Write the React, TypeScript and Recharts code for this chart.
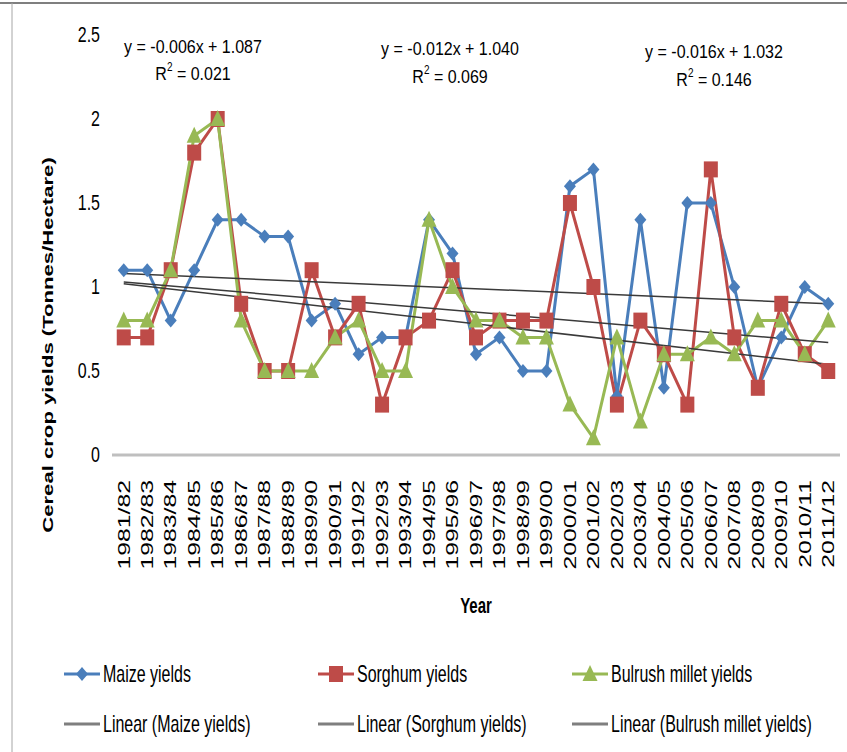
import React from "react";
import { LineChart, Line, XAxis, YAxis, ReferenceLine } from "recharts";

const years = [
  "1981/82", "1982/83", "1983/84", "1984/85", "1985/86", "1986/87", "1987/88", "1988/89",
  "1989/90", "1990/91", "1991/92", "1992/93", "1993/94", "1994/95", "1995/96", "1996/97",
  "1997/98", "1998/99", "1999/00", "2000/01", "2001/02", "2002/03", "2003/04", "2004/05",
  "2005/06", "2006/07", "2007/08", "2008/09", "2009/10", "2010/11", "2011/12",
];

const maize = [
  1.1, 1.1, 0.8, 1.1, 1.4, 1.4, 1.3, 1.3, 0.8, 0.9, 0.6, 0.7, 0.7, 1.4, 1.2, 0.6,
  0.7, 0.5, 0.5, 1.6, 1.7, 0.35, 1.4, 0.4, 1.5, 1.5, 1.0, 0.4, 0.7, 1.0, 0.9,
];
const sorghum = [
  0.7, 0.7, 1.1, 1.8, 2.0, 0.9, 0.5, 0.5, 1.1, 0.7, 0.9, 0.3, 0.7, 0.8, 1.1, 0.7,
  0.8, 0.8, 0.8, 1.5, 1.0, 0.3, 0.8, 0.6, 0.3, 1.7, 0.7, 0.4, 0.9, 0.6, 0.5,
];
const millet = [
  0.8, 0.8, 1.1, 1.9, 2.0, 0.8, 0.5, 0.5, 0.5, 0.7, 0.8, 0.5, 0.5, 1.4, 1.0, 0.8,
  0.8, 0.7, 0.7, 0.3, 0.1, 0.7, 0.2, 0.6, 0.6, 0.7, 0.6, 0.8, 0.8, 0.6, 0.8,
];

// trend line end points (maize, sorghum, millet)
const trendStart = [1.08, 1.03, 1.02];
const trendEnd = [0.9, 0.67, 0.54];

const yTicks = [0, 0.5, 1, 1.5, 2, 2.5];
const equations = ["y = -0.006x + 1.087", "y = -0.012x + 1.040", "y = -0.016x + 1.032"];
const rSquared = ["0.021", "0.069", "0.146"];

const BLUE = "#4a7ebb";
const RED = "#be4b48";
const GREEN = "#98b954";
const FONT = "'Liberation Sans', Arial, sans-serif";

const data = years.map((year, i) => ({
  year,
  maize: maize[i],
  sorghum: sorghum[i],
  millet: millet[i],
}));

const Diamond = ({ cx, cy }: any) => (
  <polygon points={`${cx},${cy - 7} ${cx + 6},${cy} ${cx},${cy + 7} ${cx - 6},${cy}`} fill={BLUE} />
);
const Square = ({ cx, cy }: any) => <rect x={cx - 7} y={cy - 8} width={14} height={16} fill={RED} />;
const Triangle = ({ cx, cy }: any) => (
  <polygon points={`${cx},${cy - 9} ${cx + 7.5},${cy + 7} ${cx - 7.5},${cy + 7}`} fill={GREEN} />
);

const XTick = ({ x, y, payload }: any) => (
  <g transform={`translate(${x},${y + 17}) rotate(-90) scale(1.55,1)`}>
    <text x={0} y={0} textAnchor="end" dominantBaseline="central" fontSize={16} fill="#000" fontFamily={FONT}>
      {payload.value}
    </text>
  </g>
);

const YTick = ({ x, y, payload }: any) => (
  <g transform={`translate(${x - 4},${y}) scale(1,1.35)`}>
    <text x={0} y={0} textAnchor="end" dominantBaseline="central" fontSize={16} fill="#000" fontFamily={FONT}>
      {payload.value}
    </text>
  </g>
);

const YTitle = () => (
  <g transform="translate(48,345) rotate(-90) scale(1.58,1)">
    <text x={0} y={0} textAnchor="middle" dominantBaseline="central" fontSize={14} fontWeight="bold" fill="#000" fontFamily={FONT}>
      Cereal crop yields (Tonnes/Hectare)
    </text>
  </g>
);

const XTitle = () => (
  <g transform="translate(476,605) scale(1,1.5)">
    <text x={0} y={0} textAnchor="middle" dominantBaseline="central" fontSize={15} fontWeight="bold" fill="#000" fontFamily={FONT}>
      Year
    </text>
  </g>
);

const Stretched = ({ x, y, children }: any) => (
  <g transform={`translate(${x},${y}) scale(1,1.2)`}>
    <text x={0} y={0} textAnchor="middle" dominantBaseline="central" fontSize={16} fill="#000" fontFamily={FONT}>
      {children}
    </text>
  </g>
);

const eqPos = [
  { x: 193, y: 46, r: 73 },
  { x: 450, y: 48, r: 76 },
  { x: 714, y: 51, r: 79 },
];

const legendItems = [
  { label: "Maize yields", color: BLUE, marker: "diamond", x: 64, y: 674 },
  { label: "Sorghum yields", color: RED, marker: "square", x: 318, y: 674 },
  { label: "Bulrush millet yields", color: GREEN, marker: "triangle", x: 572, y: 674 },
  { label: "Linear (Maize yields)", color: "#7f7f7f", marker: "none", x: 64, y: 724 },
  { label: "Linear (Sorghum yields)", color: "#7f7f7f", marker: "none", x: 318, y: 724 },
  { label: "Linear (Bulrush millet yields)", color: "#7f7f7f", marker: "none", x: 572, y: 724 },
];

function LegendMarker({ kind, cx, cy }: { kind: string; cx: number; cy: number }) {
  if (kind === "diamond") return <Diamond cx={cx} cy={cy} />;
  if (kind === "square") return <Square cx={cx} cy={cy} />;
  if (kind === "triangle") return <Triangle cx={cx} cy={cy} />;
  return null;
}

export default function App() {
  const series = [
    { key: "maize", color: BLUE, dot: Diamond },
    { key: "sorghum", color: RED, dot: Square },
    { key: "millet", color: GREEN, dot: Triangle },
  ];

  return (
    <div style={{ position: "relative", width: 847, height: 752, background: "#fff" }}>
      <style>{`body { margin: 0; }`}</style>
      <LineChart width={847} height={752} data={data} margin={{ top: 35, right: 7, bottom: 137, left: 0 }}>
        <XAxis
          dataKey="year"
          interval={0}
          height={160}
          tickLine={false}
          axisLine={{ stroke: "#bfbfbf", strokeWidth: 3 }}
          padding={{ left: 11.75, right: 11.75 }}
          tick={<XTick />}
        />
        <YAxis
          width={112}
          domain={[0, 2.5]}
          ticks={yTicks}
          axisLine={false}
          tickLine={false}
          tick={<YTick />}
        />
        {series.map((s) => (
          <Line
            key={s.key}
            dataKey={s.key}
            stroke={s.color}
            strokeWidth={3}
            dot={(p: any) => <s.dot key={`${s.key}-${p.index}`} cx={p.cx} cy={p.cy} />}
            activeDot={false}
            isAnimationActive={false}
          />
        ))}
        {trendStart.map((v, i) => (
          <ReferenceLine
            key={`trend-${i}`}
            segment={[
              { x: years[0], y: v },
              { x: years[years.length - 1], y: trendEnd[i] },
            ]}
            stroke="#3a3a3a"
            strokeWidth={1.5}
            ifOverflow="visible"
          />
        ))}
      </LineChart>
      <svg width={847} height={752} style={{ position: "absolute", left: 0, top: 0, pointerEvents: "none" }}>
        <line x1={0} x2={847} y1={3} y2={3} stroke="#7f7f7f" strokeWidth={2} />
        <line x1={12} x2={12} y1={3} y2={752} stroke="#a6a6a6" strokeWidth={1} />
        <YTitle />
        <XTitle />
        {equations.map((eq, i) => (
          <g key={eq}>
            <Stretched x={eqPos[i].x} y={eqPos[i].y}>{eq}</Stretched>
            <Stretched x={eqPos[i].x} y={eqPos[i].r}>
              {"R"}
              <tspan dy={-5} fontSize={10}>2</tspan>
              <tspan dy={5}>{` = ${rSquared[i]}`}</tspan>
            </Stretched>
          </g>
        ))}
        {legendItems.map((it) => (
          <g key={it.label}>
            <line x1={it.x} x2={it.x + 36} y1={it.y} y2={it.y} stroke={it.color} strokeWidth={3} />
            <LegendMarker kind={it.marker} cx={it.x + 18} cy={it.y} />
            <g transform={`translate(${it.x + 39},${it.y}) scale(1,1.45)`}>
              <text x={0} y={0} dominantBaseline="central" fontSize={16} fill="#000" fontFamily={FONT}>
                {it.label}
              </text>
            </g>
          </g>
        ))}
      </svg>
    </div>
  );
}
